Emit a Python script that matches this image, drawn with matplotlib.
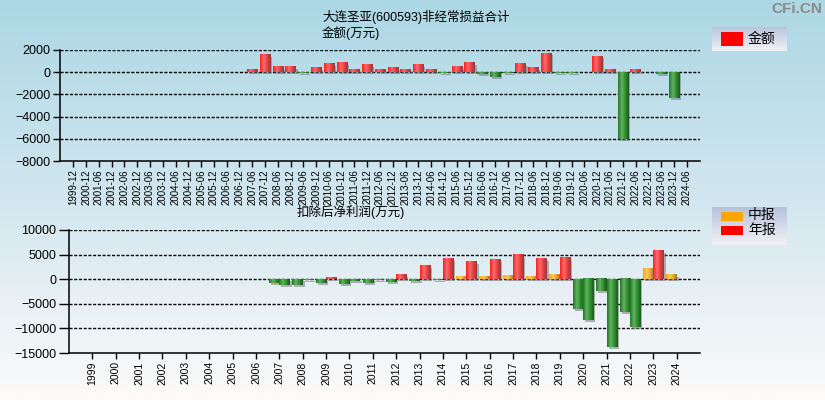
import numpy as np
import matplotlib
matplotlib.use("Agg")
import matplotlib.pyplot as plt
import matplotlib.transforms as mtransforms
from matplotlib.colors import LinearSegmentedColormap
from matplotlib.patches import Rectangle

plt.rcParams['font.family'] = ['Liberation Sans', 'Noto Sans CJK SC']

nan = np.nan

# 非经常损益合计 (万元), 报告期
periods = ['1999-12', '2000-12', '2001-06', '2001-12', '2002-06', '2002-12', '2003-06', '2003-12',
           '2004-06', '2004-12', '2005-06', '2005-12', '2006-06', '2006-12', '2007-06', '2007-12',
           '2008-06', '2008-12', '2009-06', '2009-12', '2010-06', '2010-12', '2011-06', '2011-12',
           '2012-06', '2012-12', '2013-06', '2013-12', '2014-06', '2014-12', '2015-06', '2015-12',
           '2016-06', '2016-12', '2017-06', '2017-12', '2018-06', '2018-12', '2019-06', '2019-12',
           '2020-06', '2020-12', '2021-06', '2021-12', '2022-06', '2022-12', '2023-06', '2023-12',
           '2024-06']
nonrec = [nan] * 14 + [200, 1550, 470, 470, -50, 380, 730, 820, 200, 640,
                       200, 380, 200, 640, 200, -90, 470, 820, -150, -420,
                       -60, 730, 380, 1700, -50, -50, nan, 1440, 200, -6000,
                       200, nan, -150, -2330, nan]

# 扣除后净利润 (万元)
years = [str(y) for y in range(1999, 2025)]
interim = [nan] * 8 + [-680, -1080, -740, -950, -740, -540, -340, -200, 470, 470,
                       680, 470, 880, -6000, -2500, -6760, 2100, 880]
annual = [nan] * 8 + [-1150, -200, 270, -400, -200, 880, 2700, 4120, 3510, 3920,
                      4930, 4120, 4320, -8380, -13720, -9660, 5740, nan]

red_cm = LinearSegmentedColormap.from_list('r', [(0, '#ff1c1c'), (0.35, '#ff6c6c'), (0.7, '#e43a3a'), (1, '#8c3c3c')])
green_cm = LinearSegmentedColormap.from_list('g', [(0, '#1f7a1f'), (0.35, '#62b262'), (0.7, '#2b8b2b'), (1, '#1b5a1b')])
orange_cm = LinearSegmentedColormap.from_list('o', [(0, '#ffa200'), (0.35, '#ffc862'), (0.7, '#eaa234'), (1, '#9c7434')])

fig = plt.figure(figsize=(8.25, 4), dpi=100)

# background gradient
bg = fig.add_axes([0, 0, 1, 1], zorder=-5)
grad_v = np.linspace(0, 1, 256).reshape(-1, 1)
bg_cm = LinearSegmentedColormap.from_list('bg', ['#acd7e5', '#d2e7ef', '#fdfafa'])
bg.imshow(grad_v, cmap=bg_cm, aspect='auto', extent=(0, 1, 0, 1), origin='upper')
bg.axis('off')

shadow = mtransforms.ScaledTranslation(2 / 100, -2 / 100, fig.dpi_scale_trans)
grad_h = np.linspace(0, 1, 64).reshape(1, -1)


def cyl_bar(ax, x, h, w, cmap):
    if np.isnan(h) or h == 0:
        return
    ax.bar(x, h, w, color='#7a7a7a', alpha=0.55, linewidth=0,
           transform=ax.transData + shadow, zorder=2)
    ax.imshow(grad_h, cmap=cmap, extent=(x - w / 2, x + w / 2, min(0, h), max(0, h)),
              aspect='auto', interpolation='bilinear', zorder=3)


def style_axes(ax, yticks):
    ax.set_facecolor('none')
    for s in ['top', 'right']:
        ax.spines[s].set_visible(False)
    for s in ['left', 'bottom']:
        ax.spines[s].set_linewidth(1.1)
    ax.set_yticks(yticks)
    ax.set_ylim(yticks[0], yticks[-1])
    for y in yticks[1:]:
        ax.axhline(y, color='black', lw=1.0, dashes=(2.2, 1.2), zorder=1)
    ax.tick_params(axis='y', length=5, width=1, pad=2, labelsize=9)
    ax.tick_params(axis='x', length=4, width=1, pad=2)


# top chart
ax1 = fig.add_axes([60 / 825, 1 - 161 / 400, 640 / 825, 111 / 400])
xs = np.arange(len(periods))
for x, v in zip(xs, nonrec):
    cyl_bar(ax1, x, v, 0.8, red_cm if v > 0 else green_cm)
style_axes(ax1, [-8000, -6000, -4000, -2000, 0, 2000])
ax1.set_xlim(-1.04, len(periods) + 0.04)
ax1.set_xticks(xs)
ax1.set_xticklabels(periods, rotation=90, fontsize=7)

# bottom chart
ax2 = fig.add_axes([69 / 825, 1 - 353 / 400, 631 / 825, 123 / 400])
xb = np.arange(len(years))
w = 0.44
for x, a, b in zip(xb, interim, annual):
    cyl_bar(ax2, x - w / 2, a, w, orange_cm if a > 0 else green_cm)
    cyl_bar(ax2, x + w / 2, b, w, red_cm if b > 0 else green_cm)
style_axes(ax2, [-15000, -10000, -5000, 0, 5000, 10000])
ax2.set_xlim(-1, len(years))
ax2.set_xticks(xb)
ax2.set_xticklabels(years, rotation=90, fontsize=7.5)
ax2.tick_params(axis='y', length=7)

# titles
fig.text(322 / 825, 1 - 10 / 400, '大连圣亚(600593)非经常损益合计\n金额(万元)', ha='left', va='top',
         fontsize=9, linespacing=1.25)
fig.text(351 / 825, 1 - 212 / 400, '扣除后净利润(万元)', ha='center', va='center', fontsize=9)
fig.text(822 / 825, 1 - 9 / 400, 'CFi.CN', ha='right', va='center', fontsize=11,
         fontweight='bold', color='#8a8a8a')

# legends
leg_cm = LinearSegmentedColormap.from_list('lg', ['#b6c2dc', '#f3f1f6'])


def legend_box(rect, items):
    lax = fig.add_axes(rect, zorder=5)
    lax.imshow(grad_v, cmap=leg_cm, aspect='auto', extent=(0, 1, 0, 1), origin='upper')
    lax.set_xlim(0, 1)
    lax.set_ylim(0, 1)
    lax.axis('off')
    n = len(items)
    for i, (lab, col) in enumerate(items):
        yc = 1 - (i + 0.5) / n if n == 1 else 0.78 - i * 0.38
        lax.add_patch(Rectangle((0.12, yc - 0.18 / n * 1.6), 0.29, 0.36 / n * 1.6 if n == 1 else 0.24,
                                color=col, lw=0))
        lax.text(0.48, yc, lab, va='center', ha='left', fontsize=10)


legend_box([712 / 825, 1 - 51 / 400, 75 / 825, 24 / 400], [('金额', '#ff0000')])
legend_box([712 / 825, 1 - 245 / 400, 75 / 825, 38 / 400], [('中报', '#ffa500'), ('年报', '#ff0000')])

fig.savefig('out.png', dpi=100)
